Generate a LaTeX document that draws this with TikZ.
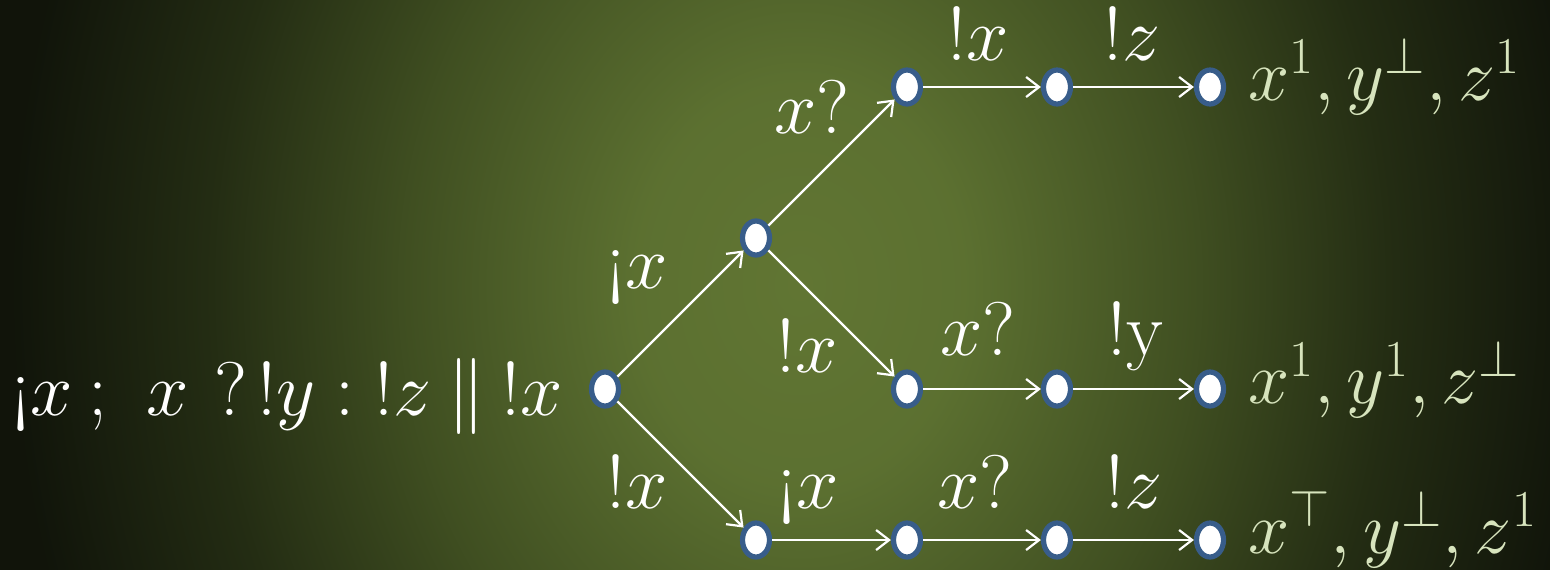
\RequirePackage{fix-cm}
\documentclass[tikz,border=0pt]{standalone}
\usepackage{fontspec}
\usetikzlibrary{arrows.meta,shapes.geometric}
\definecolor{nodeblue}{RGB}{56,93,138}
\definecolor{reslbl}{RGB}{215,228,189}
\pgfdeclareradialshading{bgshade}{\pgfpointorigin}{rgb(0bp)=(0.38,0.46,0.2); rgb(5bp)=(0.36,0.44,0.19); rgb(12bp)=(0.25,0.31,0.13); rgb(18bp)=(0.14,0.175,0.075); rgb(24bp)=(0.065,0.08,0.04); rgb(50bp)=(0.065,0.08,0.04)}
\begin{document}
\begin{tikzpicture}[x=0.5pt,y=-0.5pt,
  st/.style={ellipse,draw=nodeblue,fill=white,line width=2.6pt,minimum width=13.5pt,minimum height=17pt,inner sep=0pt},
  arr/.style={draw=white,line width=1.2pt,-{Straight Barb[length=6.5pt,width=10pt,line width=1.1pt]}},
  lbl/.style={text=white,inner sep=0pt,anchor=base,font=\fontsize{38}{44}\selectfont},
  res/.style={text=reslbl,inner sep=0pt,anchor=base west,font=\fontsize{37}{44}\selectfont}]
\useasboundingbox (0,0) rectangle (1550,569);
\begin{scope}
  \clip (0,0) rectangle (1550,569);
  \shade[shading=bgshade] (-20,-715) rectangle (1620,1285);
\end{scope}
% states
\node[st] (r)  at (605,389) {};
\node[st] (a)  at (756,238) {};
\node[st] (t1) at (907,87) {};
\node[st] (t2) at (1057,87) {};
\node[st] (t3) at (1210,87) {};
\node[st] (m1) at (907,389) {};
\node[st] (m2) at (1057,389) {};
\node[st] (m3) at (1210,389) {};
\node[st] (b1) at (756,540) {};
\node[st] (b2) at (907,540) {};
\node[st] (b3) at (1057,540) {};
\node[st] (b4) at (1210,540) {};
% transitions
\draw[arr] (r) -- (a);
\draw[arr] (a) -- (t1);
\draw[arr] (t1) -- (t2);
\draw[arr] (t2) -- (t3);
\draw[arr] (a) -- (m1);
\draw[arr] (m1) -- (m2);
\draw[arr] (m2) -- (m3);
\draw[arr] (r) -- (b1);
\draw[arr] (b1) -- (b2);
\draw[arr] (b2) -- (b3);
\draw[arr] (b3) -- (b4);
% labels
\node[lbl,anchor=base east] (prog) at (563,415) {¡$x$\hspace{7.5pt};\hspace{19.5pt}$x$\hspace{13pt}?\hspace{5pt}!$y$\hspace{10pt}:\hspace{10pt}!$z$\hspace{8pt}$\|$\hspace{8pt}!$x$};
\node[lbl] (l1) at (637,288) {¡$x$};
\node[lbl] (l2) at (637,508) {!$x$};
\node[lbl] (l3) at (812,133) {$x$?};
\node[lbl] (l4) at (807,372) {!$x$};
\node[lbl] (l5) at (978,60) {!$x$};
\node[lbl] (l6) at (1132,60) {!$z$};
\node[lbl] (l7) at (978,355) {$x$?};
\node[lbl] (l8) at (1135,355) {!y};
\node[lbl] (l9) at (808,508) {¡$x$};
\node[lbl] (l10) at (975,508) {$x$?};
\node[lbl] (l11) at (1134,508) {!$z$};
\node[res] (rt) at (1248,100) {$x^1, y^\bot, z^1$};
\node[res] (rm) at (1248,403) {$x^1, y^1, z^\bot$};
\node[res] (rb) at (1248,553) {$x^\top, y^\bot, z^1$};
\end{tikzpicture}
\end{document}
